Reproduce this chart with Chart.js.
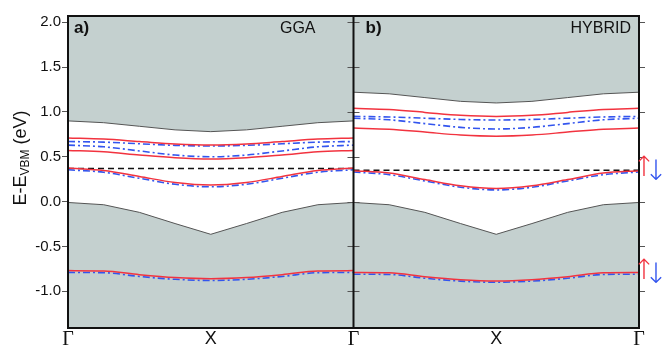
<!DOCTYPE html>
<html><head><meta charset="utf-8">
<script src="https://cdn.jsdelivr.net/npm/chart.js@4/dist/chart.umd.min.js"></script>
<style>html,body{margin:0;padding:0;background:#fff}#wrap{width:664px;height:350px}</style>
</head><body><div id="wrap"><canvas id="c" width="664" height="350"></canvas></div>
<script>
// k-path positions (Γ - X - Γ) for each panel
const kGGA = [0, 0.125, 0.25, 0.375, 0.5, 0.625, 0.75, 0.875, 1];
const kHYB = [1, 1.125, 1.25, 1.375, 1.5, 1.625, 1.75, 1.875, 2];
const xTickValues = [0, 0.5, 1, 1.5, 2];
const xTickLabels = ['Γ', 'X', 'Γ', 'X', 'Γ'];
const yTickValues = [-1.0, -0.5, 0.0, 0.5, 1.0, 1.5, 2.0];

// GGA panel (eV)
const cbEdgeGGA = [0.90, 0.88, 0.84, 0.80, 0.78, 0.80, 0.84, 0.88, 0.90];
const upRed1GGA = [0.71, 0.698, 0.67, 0.642, 0.63, 0.642, 0.67, 0.698, 0.71];
const dnBlue1GGA = [0.67, 0.663, 0.645, 0.627, 0.62, 0.627, 0.645, 0.663, 0.67];
const dnBlue2GGA = [0.63, 0.611, 0.565, 0.519, 0.50, 0.519, 0.565, 0.611, 0.63];
const upRed2GGA = [0.57, 0.556, 0.52, 0.489, 0.475, 0.489, 0.52, 0.556, 0.57];
const upRed3GGA = [0.375, 0.347, 0.28, 0.213, 0.185, 0.213, 0.28, 0.347, 0.375];
const dnBlue3GGA = [0.355, 0.327, 0.26, 0.193, 0.165, 0.193, 0.26, 0.327, 0.355];
const vbTopGGA = [-0.01, -0.035, -0.12, -0.245, -0.365, -0.245, -0.12, -0.035, -0.01];
const upRed4GGA = [-0.77, -0.773, -0.815, -0.847, -0.86, -0.847, -0.815, -0.773, -0.77];
const dnBlue4GGA = [-0.79, -0.793, -0.835, -0.867, -0.88, -0.867, -0.835, -0.793, -0.79];
const fermiGGA = 0.37;

// HYBRID panel (eV)
const cbEdgeHYB = [1.22, 1.202, 1.16, 1.118, 1.10, 1.118, 1.16, 1.202, 1.22];
const upRed1HYB = [1.04, 1.027, 0.995, 0.963, 0.95, 0.963, 0.995, 1.027, 1.04];
const dnBlue1HYB = [0.95, 0.944, 0.93, 0.916, 0.91, 0.916, 0.93, 0.944, 0.95];
const dnBlue2HYB = [0.93, 0.912, 0.87, 0.828, 0.81, 0.828, 0.87, 0.912, 0.93];
const upRed2HYB = [0.82, 0.807, 0.775, 0.743, 0.73, 0.743, 0.775, 0.807, 0.82];
const upRed3HYB = [0.345, 0.318, 0.246, 0.176, 0.147, 0.176, 0.246, 0.318, 0.345];
const dnBlue3HYB = [0.33, 0.30, 0.23, 0.16, 0.13, 0.16, 0.23, 0.30, 0.33];
const vbTopHYB = [-0.01, -0.035, -0.12, -0.245, -0.365, -0.245, -0.12, -0.035, -0.01];
const upRed4HYB = [-0.79, -0.794, -0.838, -0.871, -0.885, -0.871, -0.838, -0.794, -0.79];
const dnBlue4HYB = [-0.81, -0.813, -0.855, -0.887, -0.90, -0.887, -0.855, -0.813, -0.81];
const fermiHYB = 0.35;

const GRAY = '#c4d0cf';
const RED = '#f2333f';
const BLUE = '#3355ee';

function pts(ks, vs) { return ks.map((k, i) => ({ x: k, y: vs[i] })); }
function flat(ks, v) { return [{ x: ks[0], y: v }, { x: ks[ks.length - 1], y: v }]; }

function fillSet(ks, vs, mode) {
  return { data: pts(ks, vs), fill: mode, backgroundColor: GRAY, borderColor: '#555', borderWidth: 1, pointRadius: 0, tension: 0, order: 10 };
}
function redSet(ks, vs) {
  return { data: pts(ks, vs), fill: false, borderColor: RED, borderWidth: 1.5, pointRadius: 0, cubicInterpolationMode: 'monotone', order: 1 };
}
function blueSet(ks, vs) {
  return { data: pts(ks, vs), fill: false, borderColor: BLUE, borderWidth: 1.6, borderDash: [7, 3, 2, 3], pointRadius: 0, cubicInterpolationMode: 'monotone', order: 2 };
}
function fermiSet(ks, v) {
  return { data: flat(ks, v), fill: false, borderColor: '#111', borderWidth: 1.5, borderDash: [6, 4], pointRadius: 0, order: 3 };
}

const datasets = [
  fillSet(kGGA, vbTopGGA, 'start'), fillSet(kGGA, cbEdgeGGA, 'end'),
  fillSet(kHYB, vbTopHYB, 'start'), fillSet(kHYB, cbEdgeHYB, 'end'),
  fermiSet(kGGA, fermiGGA), fermiSet(kHYB, fermiHYB),
  blueSet(kGGA, dnBlue1GGA), blueSet(kGGA, dnBlue2GGA), blueSet(kGGA, dnBlue3GGA), blueSet(kGGA, dnBlue4GGA),
  redSet(kGGA, upRed1GGA), redSet(kGGA, upRed2GGA), redSet(kGGA, upRed3GGA), redSet(kGGA, upRed4GGA),
  blueSet(kHYB, dnBlue1HYB), blueSet(kHYB, dnBlue2HYB), blueSet(kHYB, dnBlue3HYB), blueSet(kHYB, dnBlue4HYB),
  redSet(kHYB, upRed1HYB), redSet(kHYB, upRed2HYB), redSet(kHYB, upRed3HYB), redSet(kHYB, upRed4HYB)
];

const deco = {
  id: 'deco',
  afterDraw(chart) {
    const ctx = chart.ctx, a = chart.chartArea, xs = chart.scales.x, ys = chart.scales.y;
    ctx.save();
    // tick marks at separator and right edge
    const sep = xs.getPixelForValue(1);
    ctx.strokeStyle = '#555'; ctx.lineWidth = 1;
    yTickValues.forEach(v => {
      const y = Math.round(ys.getPixelForValue(v)) + 0.5;
      ctx.beginPath();
      ctx.moveTo(sep - 6, y); ctx.lineTo(sep + 6, y);
      ctx.moveTo(a.right, y); ctx.lineTo(a.right + 6, y);
      ctx.stroke();
    });
    // frame and separator
    ctx.strokeStyle = '#111'; ctx.lineWidth = 2;
    ctx.strokeRect(a.left, a.top, a.right - a.left, a.bottom - a.top);
    ctx.beginPath(); ctx.moveTo(sep, a.top); ctx.lineTo(sep, a.bottom); ctx.stroke();
    // panel labels
    ctx.fillStyle = '#111'; ctx.textBaseline = 'middle';
    ctx.font = 'bold 17px "Liberation Sans", Arial, sans-serif';
    ctx.textAlign = 'left';
    ctx.fillText('a)', a.left + 6, a.top + 12);
    ctx.fillText('b)', sep + 12, a.top + 12);
    ctx.font = '16px "Liberation Sans", Arial, sans-serif';
    ctx.textAlign = 'right';
    ctx.fillText('GGA', sep - 38, a.top + 13);
    ctx.fillText('HYBRID', a.right - 8, a.top + 13);
    // spin arrows
    ctx.font = '200 28px "DejaVu Sans", sans-serif';
    ctx.textAlign = 'center';
    [fermiHYB, upRed4HYB[0]].forEach(v => {
      const y = ys.getPixelForValue(v);
      ctx.fillStyle = RED; ctx.fillText('↑', a.right + 5, y - 1);
      ctx.fillStyle = BLUE; ctx.fillText('↓', a.right + 17, y + 3);
    });
    // y title with subscript
    ctx.translate(21, 158);
    ctx.rotate(-Math.PI / 2);
    ctx.fillStyle = '#111';
    const f1 = '18px "Liberation Sans", Arial, sans-serif', f2 = '12px "Liberation Sans", Arial, sans-serif';
    const p1 = 'E-E', p2 = 'VBM', p3 = ' (eV)';
    ctx.font = f1; const w1 = ctx.measureText(p1).width, w3 = ctx.measureText(p3).width;
    ctx.font = f2; const w2 = ctx.measureText(p2).width;
    let x0 = -(w1 + w2 + w3) / 2;
    ctx.textAlign = 'left';
    ctx.font = f1; ctx.fillText(p1, x0, 0);
    ctx.font = f2; ctx.fillText(p2, x0 + w1, 5);
    ctx.font = f1; ctx.fillText(p3, x0 + w1 + w2, 0);
    ctx.restore();
  }
};

new Chart(document.getElementById('c'), {
  type: 'line',
  data: { datasets },
  options: {
    responsive: false, animation: false, devicePixelRatio: 1,
    layout: { padding: { top: 16, right: 25, left: 0, bottom: 0 } },
    plugins: { legend: { display: false }, tooltip: { enabled: false } },
    scales: {
      x: {
        type: 'linear', min: 0, max: 2,
        afterBuildTicks: s => { s.ticks = xTickValues.map(v => ({ value: v })); },
        afterFit: s => { s.height = 22; },
        grid: { display: false, drawTicks: false },
        border: { display: false },
        ticks: {
          padding: 0, color: '#111', maxRotation: 0, autoSkip: false,
          callback: (v) => xTickLabels[xTickValues.indexOf(v)],
          font: (c) => (c.tick && c.tick.value % 1 === 0)
            ? { family: '"Liberation Serif", "Times New Roman", serif', size: 20 }
            : { family: '"Liberation Sans", Arial, sans-serif', size: 18 }
        }
      },
      y: {
        type: 'linear', min: -1.41, max: 2.07,
        afterBuildTicks: s => { s.ticks = yTickValues.map(v => ({ value: v })); },
        afterFit: s => { s.width = 68; },
        grid: { drawOnChartArea: false, drawTicks: true, tickLength: 6, color: '#555' },
        border: { display: false },
        ticks: {
          padding: 1, color: '#111',
          font: { family: '"Liberation Sans", Arial, sans-serif', size: 15 },
          callback: (v) => v.toFixed(1)
        }
      }
    }
  },
  plugins: [deco]
});
</script></body></html>
